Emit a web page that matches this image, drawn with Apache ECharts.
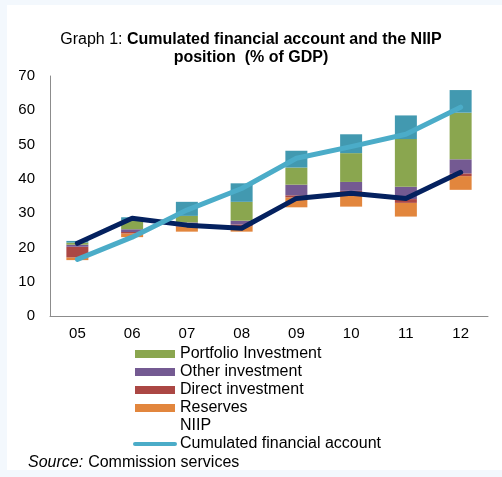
<!DOCTYPE html>
<html>
<head>
<meta charset="utf-8">
<script src="https://cdn.jsdelivr.net/npm/echarts@6/dist/echarts.min.js"></script>
<style>
  body { margin: 0; }
  .wrap { position: relative; width: 502px; height: 477px; background: #f3f8fd; }
  .panel { position: absolute; left: 7px; top: 5px; right: 0; bottom: 7px; background: #fff; }
  #chart { position: absolute; left: 0; top: 0; width: 502px; height: 477px; }
</style>
</head>
<body>
<div class="wrap">
  <div class="panel"></div>
  <div id="chart"></div>
</div>
<script>
// years
const years = ['05', '06', '07', '08', '09', '10', '11', '12']

// floating bars: bottom of each stack, then the pieces stacked on it
const stackBase  = [16.3, 23.0, 24.6, 24.6, 31.7, 31.9, 29.0, 36.8]
const reserves   = [0.8, 1.1, 1.5, 1.6, 2.9, 4.3, 4.0, 4.0]
const direct     = [3.1, 0.4, 0.4, 0.5, 0.6, 0.3, 1.1, 0.8]
const other      = [0.6, 0.8, 0.8, 1.1, 3.1, 2.6, 3.6, 4.1]
const portfolio  = [0.6, 2.7, 1.9, 5.5, 5.0, 8.4, 13.9, 13.6]
const otherFlows = [0.5, 0.8, 4.1, 5.4, 4.9, 5.5, 6.9, 6.6]

// lines
const niip = [21.2, 28.5, 26.5, 25.6, 34.3, 35.8, 34.3, 41.9]
const cumFinAccount = [16.5, 23.0, 30.9, 37.2, 46.0, 49.4, 53.0, 60.9]

const font = 'Liberation Sans, Arial, sans-serif'

const barPiece = (name, data, color) => ({
  name: name,
  type: 'bar',
  stack: 'fa',
  barWidth: 22,
  data: data,
  itemStyle: { color: color },
  emphasis: { disabled: true }
})

const myChart = echarts.init(document.getElementById('chart'))

const option = {
  animation: false,
  textStyle: { fontFamily: font },
  title: [
    {
      text: '{n|Graph 1: }{b|Cumulated financial account and the NIIP}\n{b|position  (% of GDP)}',
      left: 'center',
      top: 31,
      padding: 0,
      textStyle: {
        fontSize: 16,
        fontWeight: 'normal',
        lineHeight: 18,
        rich: {
          n: { fontFamily: font, fontSize: 16, fontWeight: 'normal', color: '#000', lineHeight: 18 },
          b: { fontFamily: font, fontSize: 16, fontWeight: 'bold', color: '#000', lineHeight: 18 }
        }
      }
    },
    {
      text: '{i|Source:} {n|Commission services}',
      left: 28,
      top: 454,
      padding: 0,
      textStyle: {
        fontWeight: 'normal',
        rich: {
          i: { fontFamily: font, fontSize: 16, fontStyle: 'italic', fontWeight: 'normal', color: '#000' },
          n: { fontFamily: font, fontSize: 16, fontWeight: 'normal', color: '#000' }
        }
      }
    }
  ],
  legend: {
    orient: 'vertical',
    left: 133,
    top: 346,
    padding: 0,
    itemWidth: 40,
    itemHeight: 8,
    itemGap: 2,
    selectedMode: false,
    textStyle: { fontFamily: font, fontSize: 16, color: '#000', lineHeight: 16 },
    data: [
      { name: 'Portfolio Investment', icon: 'rect' },
      { name: 'Other investment', icon: 'rect' },
      { name: 'Direct investment', icon: 'rect' },
      { name: 'Reserves', icon: 'rect' },
      { name: 'NIIP', icon: 'rect', itemStyle: { color: 'rgba(0,0,0,0)', borderWidth: 0 } },
      {
        name: 'Cumulated financial account',
        itemStyle: { color: 'rgba(0,0,0,0)', borderColor: 'rgba(0,0,0,0)', borderWidth: 0 },
        lineStyle: { color: '#4bacc8', width: 4, cap: 'round' }
      }
    ]
  },
  grid: { left: 50, right: 14, top: 76, bottom: 161 },
  xAxis: {
    type: 'category',
    data: years,
    axisLine: { lineStyle: { color: '#8c8c8c', width: 1 } },
    axisTick: { show: false },
    axisLabel: { color: '#000', fontSize: 15, margin: 10 }
  },
  yAxis: {
    type: 'value',
    min: 0,
    max: 70,
    interval: 10,
    axisLine: { show: true, lineStyle: { color: '#8c8c8c', width: 1 } },
    axisTick: { show: false },
    splitLine: { show: false },
    axisLabel: { color: '#000', fontSize: 15, margin: 15 }
  },
  series: [
    {
      name: 'base',
      type: 'bar',
      stack: 'fa',
      barWidth: 22,
      data: stackBase,
      itemStyle: { color: 'rgba(0,0,0,0)' },
      emphasis: { disabled: true }
    },
    barPiece('Reserves', reserves, '#e2863d'),
    barPiece('Direct investment', direct, '#ab4744'),
    barPiece('Other investment', other, '#745a92'),
    barPiece('Portfolio Investment', portfolio, '#8aa64f'),
    barPiece('other flows', otherFlows, '#4299b0'),
    {
      name: 'NIIP',
      type: 'line',
      data: niip,
      symbol: 'none',
      lineStyle: { color: '#04215f', width: 5, cap: 'round', join: 'round' },
      itemStyle: { color: '#04215f' }
    },
    {
      name: 'Cumulated financial account',
      type: 'line',
      data: cumFinAccount,
      symbol: 'none',
      lineStyle: { color: '#4bacc8', width: 5, cap: 'round', join: 'round' },
      itemStyle: { color: '#4bacc8' }
    }
  ]
}

myChart.setOption(option)
</script>
</body>
</html>
